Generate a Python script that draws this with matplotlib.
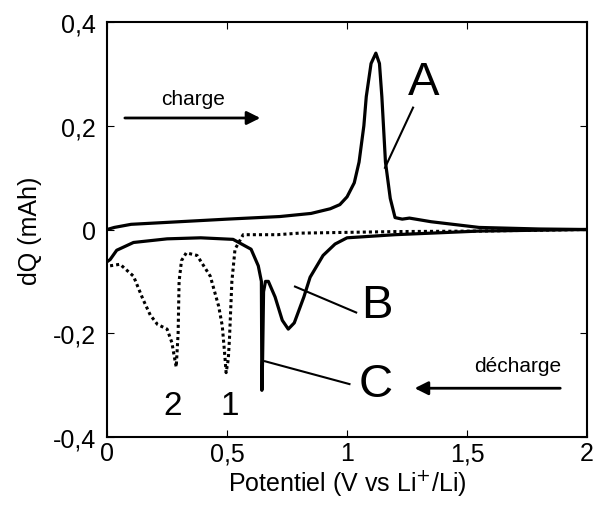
import matplotlib.pyplot as plt

plt.rcParams['font.family'] = ['Liberation Sans', 'DejaVu Sans']

# charge curve (solid, upper)
charge_v = [0.0, 0.03, 0.1, 0.3, 0.5, 0.72, 0.85, 0.93, 0.97, 1.0, 1.03, 1.05, 1.07, 1.08,
            1.1, 1.12, 1.135, 1.145, 1.16, 1.18, 1.2, 1.23, 1.26, 1.35, 1.55, 1.8, 2.0]
charge_q = [0.0, 0.004, 0.01, 0.015, 0.02, 0.025, 0.031, 0.04, 0.048, 0.063, 0.09, 0.13, 0.2, 0.256,
            0.32, 0.34, 0.32, 0.256, 0.13, 0.06, 0.023, 0.02, 0.022, 0.015, 0.004, 0.001, 0.0]

# discharge curve (solid, lower)
dis_v = [0.0, 0.0125, 0.04, 0.11, 0.25, 0.39, 0.525, 0.6, 0.63, 0.643, 0.645, 0.648,
         0.652, 0.66, 0.672, 0.7, 0.73, 0.755, 0.78, 0.82, 0.846, 0.9, 0.95, 1.0, 1.2,
         1.55, 2.0]
dis_q = [-0.062, -0.058, -0.04, -0.025, -0.018, -0.016, -0.019, -0.038, -0.07, -0.1, -0.31,
         -0.25, -0.12, -0.1, -0.1, -0.13, -0.175, -0.192, -0.18, -0.13, -0.092, -0.05,
         -0.028, -0.016, -0.01, -0.003, 0.0]

# discharge curve (dotted)
dot_v = [0.0125, 0.054, 0.11, 0.15, 0.18, 0.21, 0.25, 0.27, 0.28, 0.288, 0.296, 0.3,
         0.31, 0.33, 0.375, 0.43, 0.465, 0.48, 0.49, 0.496, 0.505, 0.51, 0.52, 0.533,
         0.567, 0.71, 0.8, 1.2, 1.55, 2.0]
dot_q = [-0.07, -0.067, -0.09, -0.135, -0.165, -0.183, -0.192, -0.218, -0.245, -0.265,
         -0.2, -0.1, -0.06, -0.045, -0.05, -0.09, -0.148, -0.186, -0.24, -0.276, -0.25,
         -0.21, -0.1, -0.038, -0.01, -0.01, -0.007, -0.004, -0.003, 0.0]

xticks = [0, 0.5, 1, 1.5, 2]
xtick_labels = ['0', '0,5', '1', '1,5', '2']
yticks = [-0.4, -0.2, 0, 0.2, 0.4]
ytick_labels = ['-0,4', '-0,2', '0', '0,2', '0,4']

fig = plt.figure(figsize=(5.95, 5.06), dpi=100)
ax = fig.add_axes([0.18, 0.1344, 0.8066, 0.8201])

ax.plot(charge_v, charge_q, color='black', lw=2.3)
ax.plot(dis_v, dis_q, color='black', lw=2.3)
ax.plot(dot_v, dot_q, color='black', lw=2.2, linestyle=(0, (1, 1)))

ax.set_xlim(0, 2)
ax.set_ylim(-0.4, 0.4)
ax.set_xticks(xticks)
ax.set_xticklabels(xtick_labels)
ax.set_yticks(yticks)
ax.set_yticklabels(ytick_labels)
ax.tick_params(direction='in', top=True, right=True, labelsize=18, length=5)
ax.tick_params(axis='y', pad=8)
ax.tick_params(axis='x', pad=3)
for s in ax.spines.values():
    s.set_linewidth(1.5)
ax.set_xlabel('Potentiel (V vs Li$^{+}$/Li)', fontsize=18, labelpad=1)
ax.set_ylabel('dQ (mAh)', fontsize=18, labelpad=8)

# labels and pointers
ax.text(1.32, 0.285, 'A', fontsize=34, ha='center', va='center')
ax.plot([1.275, 1.158], [0.235, 0.119], color='black', lw=1.5)
ax.text(1.125, -0.146, 'B', fontsize=34, ha='center', va='center')
ax.plot([0.783, 1.038], [-0.11, -0.16], color='black', lw=1.5)
ax.text(1.12, -0.298, 'C', fontsize=34, ha='center', va='center')
ax.plot([0.658, 1.01], [-0.254, -0.298], color='black', lw=1.5)
ax.text(0.275, -0.34, '2', fontsize=24, ha='center', va='center')
ax.text(0.51, -0.34, '1', fontsize=24, ha='center', va='center')

ax.text(0.36, 0.252, 'charge', fontsize=15, ha='center', va='center')
ax.annotate('', xy=(0.65, 0.215), xytext=(0.0625, 0.215),
            arrowprops=dict(arrowstyle='-|>', color='black', lw=2, mutation_scale=20))
ax.text(1.71, -0.262, 'décharge', fontsize=15, ha='center', va='center')
ax.annotate('', xy=(1.27, -0.306), xytext=(1.9, -0.306),
            arrowprops=dict(arrowstyle='-|>', color='black', lw=2, mutation_scale=20))

fig.savefig('out.png', dpi=100)
